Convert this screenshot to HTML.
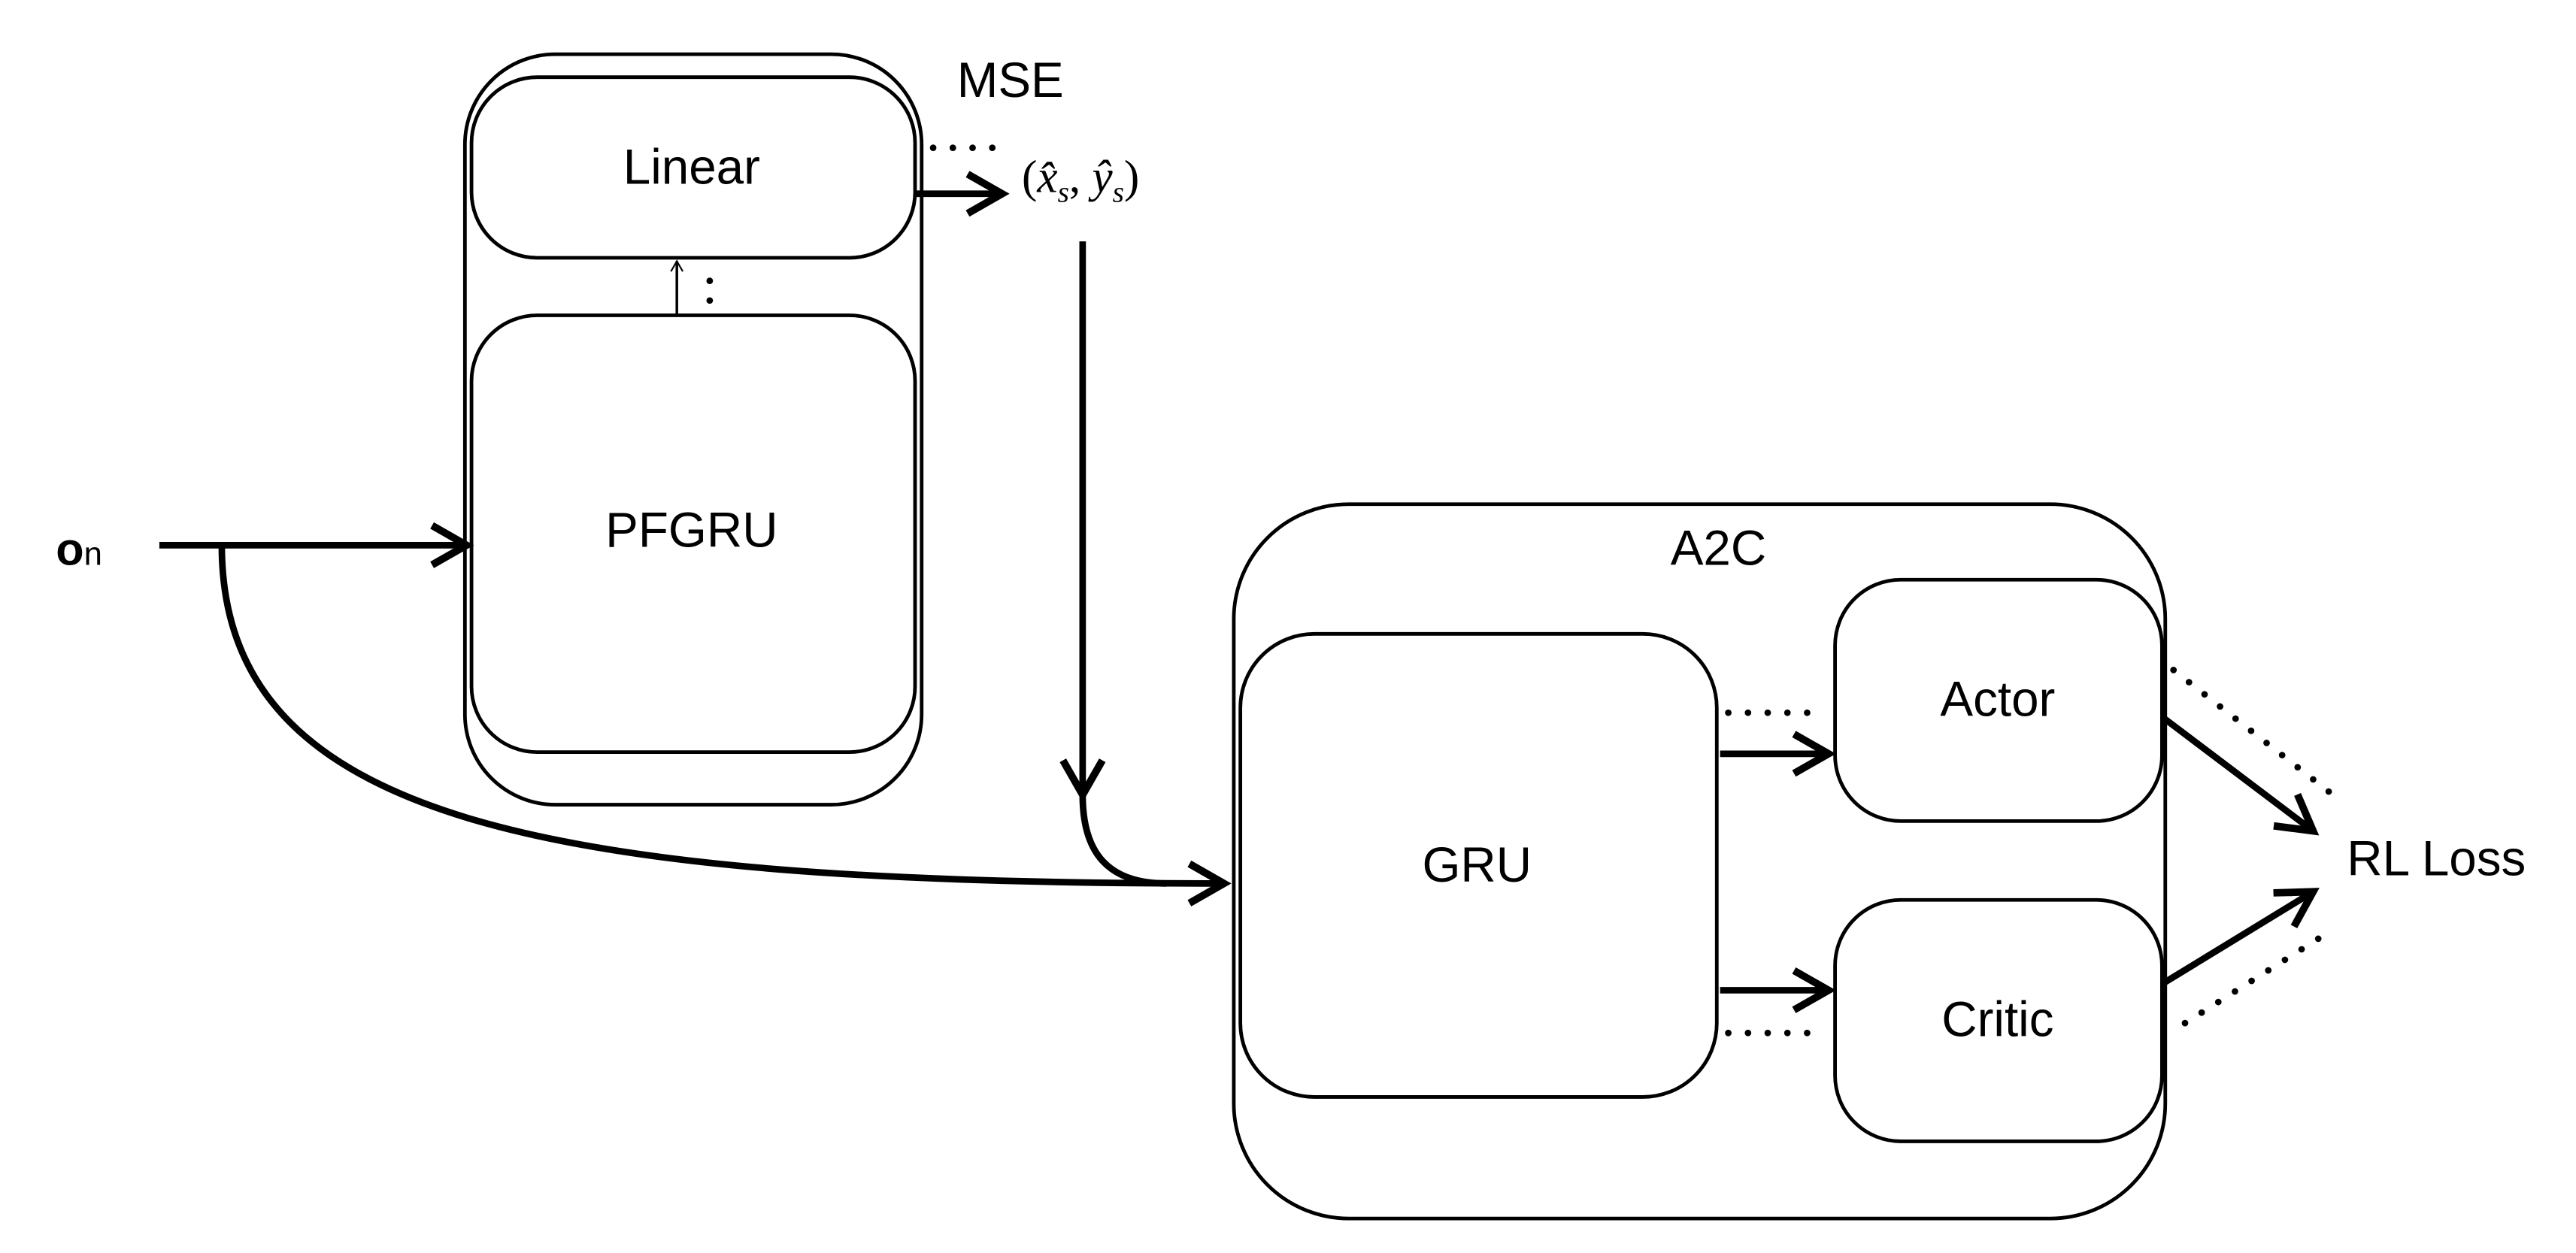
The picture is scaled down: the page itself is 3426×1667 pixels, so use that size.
<!DOCTYPE html>
<html><head><style>html,body{margin:0;padding:0;background:#fff}svg{display:block}</style></head>
<body>
<svg width="3426" height="1667" viewBox="0 0 1568 763" preserveAspectRatio="none" xmlns="http://www.w3.org/2000/svg" font-family="Liberation Sans, sans-serif">
<defs>
<marker id="a" viewBox="0 0 20 20" refX="17" refY="10" markerWidth="9" markerHeight="9" markerUnits="userSpaceOnUse" orient="auto"><path d="M3,2 L17,10 L3,18" fill="none" stroke="#000" stroke-width="2.2"/></marker>
<marker id="b" viewBox="0 0 20 20" refX="17" refY="10" markerWidth="30" markerHeight="30" markerUnits="userSpaceOnUse" orient="auto"><path d="M3,2 L17,10 L3,18" fill="none" stroke="#000" stroke-width="3"/></marker>
</defs>
<g fill="none" stroke="#000" stroke-width="2.2">
<rect x="283" y="33" width="278" height="457" rx="55"/>
<rect x="287" y="47" width="270" height="110" rx="40"/>
<rect x="287" y="192" width="270" height="266" rx="40"/>
<rect x="751" y="307" width="567" height="435" rx="70"/>
<rect x="755" y="386" width="290" height="282" rx="45"/>
<rect x="1117" y="353" width="199" height="147" rx="40"/>
<rect x="1117" y="548" width="199" height="147" rx="40"/>
<line x1="412" y1="192" x2="412" y2="159" stroke-width="1.6" marker-end="url(#a)"/>
</g>
<g fill="none" stroke="#000" stroke-width="4" stroke-linecap="butt">
<line x1="557" y1="118" x2="610" y2="118" marker-end="url(#b)"/>
<line x1="97" y1="332" x2="284" y2="332" marker-end="url(#b)"/>
<path d="M135,332 C135,500 330,538 745,538" marker-end="url(#b)"/>
<line x1="659" y1="147" x2="659" y2="484" marker-end="url(#b)"/>
<path d="M659,484 C659,520 675,538 710,538"/>
<line x1="1047" y1="459" x2="1113" y2="459" marker-end="url(#b)"/>
<line x1="1047" y1="603" x2="1113" y2="603" marker-end="url(#b)"/>
<line x1="1318" y1="438" x2="1408" y2="506" marker-end="url(#b)"/>
<line x1="1318" y1="598" x2="1408" y2="543" marker-end="url(#b)"/>
</g>
<g fill="none" stroke="#000" stroke-width="4" stroke-linecap="round" stroke-dasharray="0 12">
<line x1="568" y1="90" x2="605" y2="90"/>
<line x1="432" y1="171" x2="432" y2="186"/>
<line x1="1052" y1="434" x2="1108" y2="434"/>
<line x1="1052" y1="629" x2="1108" y2="629"/>
<line x1="1323" y1="408" x2="1420" y2="484"/>
<line x1="1330" y1="623" x2="1420" y2="566"/>
</g>
<g font-size="30" text-anchor="middle" fill="#000">
<text x="421" y="112">Linear</text>
<text x="421" y="333">PFGRU</text>
<text x="615" y="59">MSE</text>
<text x="1046" y="344">A2C</text>
<text x="899" y="537">GRU</text>
<text x="1216" y="436">Actor</text>
<text x="1216" y="631">Critic</text>
<text x="1483" y="533">RL Loss</text>
</g>
<text x="34" y="344" font-size="28" font-weight="bold">o<tspan font-size="20" font-weight="normal">n</tspan></text>
<text x="622" y="117" font-family="Liberation Serif, serif" font-size="28">(<tspan font-style="italic">x̂</tspan><tspan font-style="italic" font-size="18" dy="6">s</tspan><tspan dy="-6">, </tspan><tspan font-style="italic">ŷ</tspan><tspan font-style="italic" font-size="18" dy="6">s</tspan><tspan dy="-6">)</tspan></text>
</svg>
</body></html>
